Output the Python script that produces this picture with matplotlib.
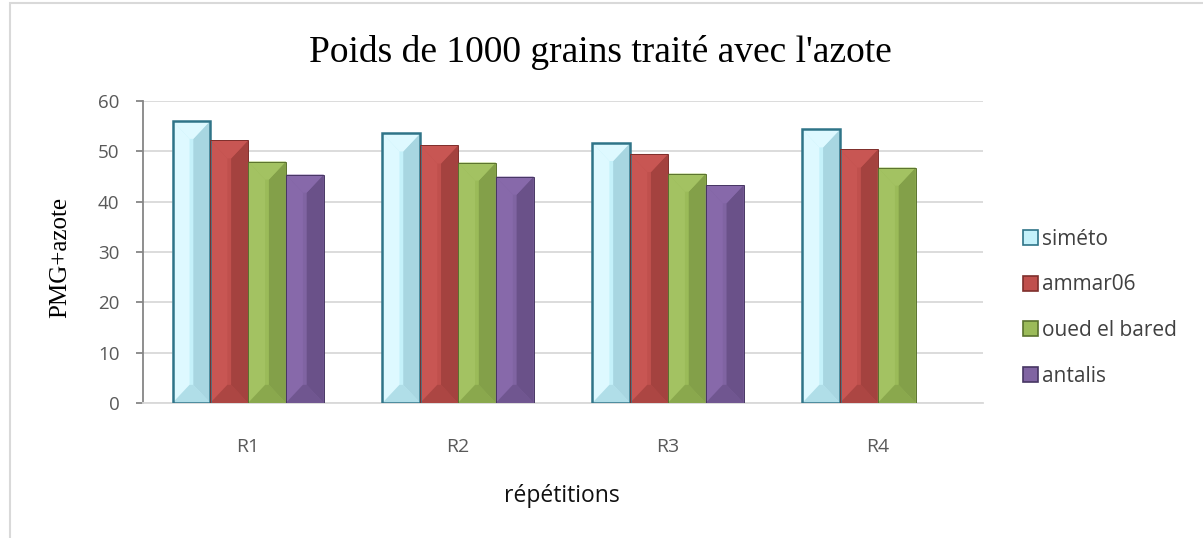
import numpy as np
import matplotlib.pyplot as plt
from matplotlib.patches import Rectangle, Polygon

# data
categories = ["R1", "R2", "R3", "R4"]
series_names = ["siméto", "ammar06", "oued el bared", "antalis"]
simeto = [56.1, 53.6, 51.7, 54.4]
ammar06 = [52.2, 51.2, 49.5, 50.4]
oued = [48.0, 47.8, 45.6, 46.8]
antalis = [45.4, 45.0, 43.3, np.nan]

series = [simeto, ammar06, oued, antalis]
face = ['#c4f1fa', '#c0504d', '#9bbb59', '#8064a2']
light = ['#def9ff', '#c85653', '#a3c262', '#8769aa']
dark = ['#a8d6e1', '#a4423f', '#83a049', '#6a5189']
edge = ['#2f7488', '#7e2f2c', '#5a722e', '#473663']

fig = plt.figure(figsize=(12.03, 5.38), dpi=100)
ax = fig.add_axes([0.119, 0.251, 0.698, 0.561])

x = np.arange(len(categories))
w = 0.18
for i, vals in enumerate(series):
    for j, v in enumerate(vals):
        if np.isnan(v):
            continue
        left = x[j] + (i - 1.5) * w - w / 2
        b = w * 0.45
        h = 3.6
        ax.add_patch(Rectangle((left, 0), w, v, facecolor=face[i], edgecolor='none', zorder=3))
        # bevel faces
        ax.add_patch(Polygon([(left, 0), (left + b, h), (left + b, v - h), (left, v)],
                             closed=True, facecolor=light[i], edgecolor='none', zorder=3))
        ax.add_patch(Polygon([(left + w, 0), (left + w - b, h), (left + w - b, v - h), (left + w, v)],
                             closed=True, facecolor=dark[i], edgecolor='none', zorder=3))
        ax.add_patch(Polygon([(left, v), (left + b, v - h), (left + w - b, v - h), (left + w, v)],
                             closed=True, facecolor=light[i], edgecolor='none', zorder=3))
        ax.add_patch(Polygon([(left, 0), (left + b, h), (left + w - b, h), (left + w, 0)],
                             closed=True, facecolor=dark[i], edgecolor='none', zorder=3, alpha=0.7))
        ax.add_patch(Rectangle((left, 0), w, v, facecolor='none', edgecolor=edge[i],
                               linewidth=1.8 if i == 0 else 0.7, zorder=4))

ax.set_xlim(-0.5, 3.5)
ax.set_ylim(0, 60)
ax.set_yticks(range(0, 61, 10))
ax.set_xticks(x)
ax.set_xticklabels(categories)
ax.yaxis.grid(True, color='#d9d9d9', linewidth=1.3, zorder=0)
ax.set_axisbelow(True)
for s in ['top', 'right']:
    ax.spines[s].set_visible(False)
ax.spines['left'].set_color('#868686')
ax.spines['left'].set_linewidth(1.3)
ax.spines['bottom'].set_color('#d9d9d9')
ax.spines['bottom'].set_linewidth(1.3)
ax.tick_params(axis='y', colors='#868686', labelcolor='#595959', labelsize=13.5, length=5, width=1.3, pad=12)
ax.tick_params(axis='x', length=0, labelcolor='#595959', labelsize=14, pad=25)
for t in ax.get_yticklabels() + ax.get_xticklabels():
    t.set_family('Open Sans')

fig.text(0.499, 0.903, "Poids de 1000 grains traité avec l'azote", ha='center', va='center',
         family='Liberation Serif', fontsize=27)
fig.text(0.467, 0.078, "répétitions", ha='center', va='center', family='Open Sans', fontsize=16.5, color='#111111')
fig.text(0.05, 0.522, "PMG+azote", ha='center', va='center', rotation=90,
         family='Liberation Serif', fontsize=18)

handles = [Rectangle((0, 0), 1, 1, facecolor=face[i], edgecolor=edge[i], linewidth=1.2) for i in range(4)]
leg = fig.legend(handles, series_names, loc='center left', bbox_to_anchor=(0.850, 0.428),
                 frameon=False, borderpad=0, borderaxespad=0, handlelength=0.75, handleheight=0.75,
                 handletextpad=0.2, labelspacing=1.18, prop={'family': 'Open Sans', 'size': 15})
for t in leg.get_texts():
    t.set_color('#404040')

fig.patches.append(Rectangle((0.008, -0.1), 1.1, 1.095, transform=fig.transFigure,
                             fill=False, edgecolor='#d9d9d9', linewidth=1.5))

fig.savefig('out.png', dpi=100)
